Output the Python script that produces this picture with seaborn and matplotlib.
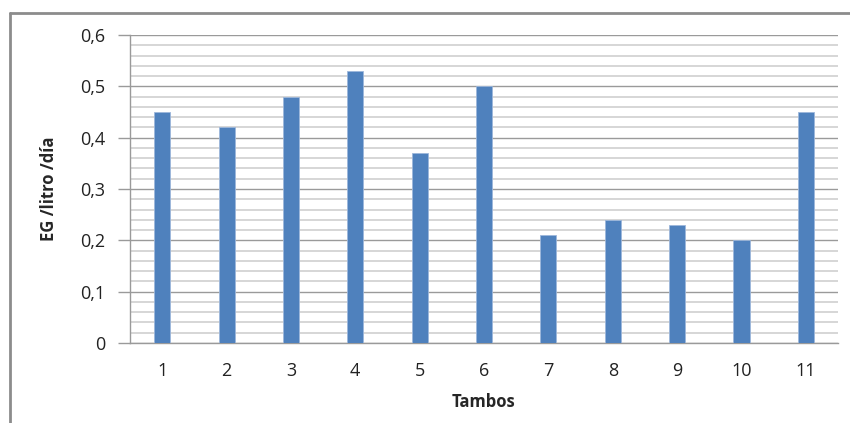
import matplotlib
matplotlib.use("Agg")
import matplotlib.pyplot as plt
from matplotlib.ticker import MultipleLocator, FuncFormatter
from matplotlib.lines import Line2D
import seaborn as sns
import pandas as pd

tambos = ["1", "2", "3", "4", "5", "6", "7", "8", "9", "10", "11"]
eg_litro_dia = [0.45, 0.42, 0.48, 0.53, 0.37, 0.50, 0.21, 0.24, 0.23, 0.20, 0.45]

df = pd.DataFrame({"Tambos": tambos, "EG": eg_litro_dia})

sns.set_theme(style="white")
plt.rcParams["font.family"] = ["Open Sans", "DejaVu Sans"]

fig = plt.figure(figsize=(8.5, 4.23), dpi=100)
ax = fig.add_axes([130 / 850, 1 - 343 / 423, (838 - 130) / 850, (343 - 35) / 423])

sns.barplot(data=df, x="Tambos", y="EG", color="#4F81BD", width=0.25,
            saturation=1, ax=ax, zorder=3, edgecolor="#9DB7DB", linewidth=0.6)

ax.set_ylim(0, 0.6)
ax.set_xlim(-0.5, len(tambos) - 0.5)
ax.yaxis.set_major_locator(MultipleLocator(0.1))
ax.yaxis.set_minor_locator(MultipleLocator(0.02))
ax.yaxis.set_major_formatter(FuncFormatter(lambda v, p: f"{v:.1f}".replace(".", ",") if v > 0 else "0"))

ax.grid(which="minor", axis="y", color="#D0D0D0", linewidth=1.2, zorder=0)
ax.grid(which="major", axis="y", color="#9A9A9A", linewidth=1.0, zorder=0)
ax.set_axisbelow(True)

for s in ["top", "right"]:
    ax.spines[s].set_visible(False)
ax.spines["left"].set_color("#9A9A9A")
ax.spines["bottom"].set_color("#9A9A9A")
ax.spines["left"].set_linewidth(1.0)
ax.spines["bottom"].set_linewidth(1.0)

ax.tick_params(axis="y", which="major", left=True, length=9, width=1.0,
               color="#9A9A9A", labelsize=13, pad=9, labelcolor="#222222")
ax.tick_params(axis="y", which="minor", left=False)
ax.tick_params(axis="x", bottom=False, labelsize=13, pad=8, labelcolor="#222222")

ax.set_xlabel("Tambos", fontsize=12, fontweight="bold", labelpad=9)
ax.set_ylabel("EG /litro /día", fontsize=12, fontweight="bold", labelpad=16)

# chart frame edges
fig.add_artist(Line2D([10 / 850, 10 / 850], [0, 1 - 13 / 423], transform=fig.transFigure,
                      color="#8C8C8C", linewidth=2))
fig.add_artist(Line2D([10 / 850, 1], [1 - 13 / 423, 1 - 13 / 423], transform=fig.transFigure,
                      color="#8C8C8C", linewidth=2))

fig.savefig("out.png", dpi=100)
